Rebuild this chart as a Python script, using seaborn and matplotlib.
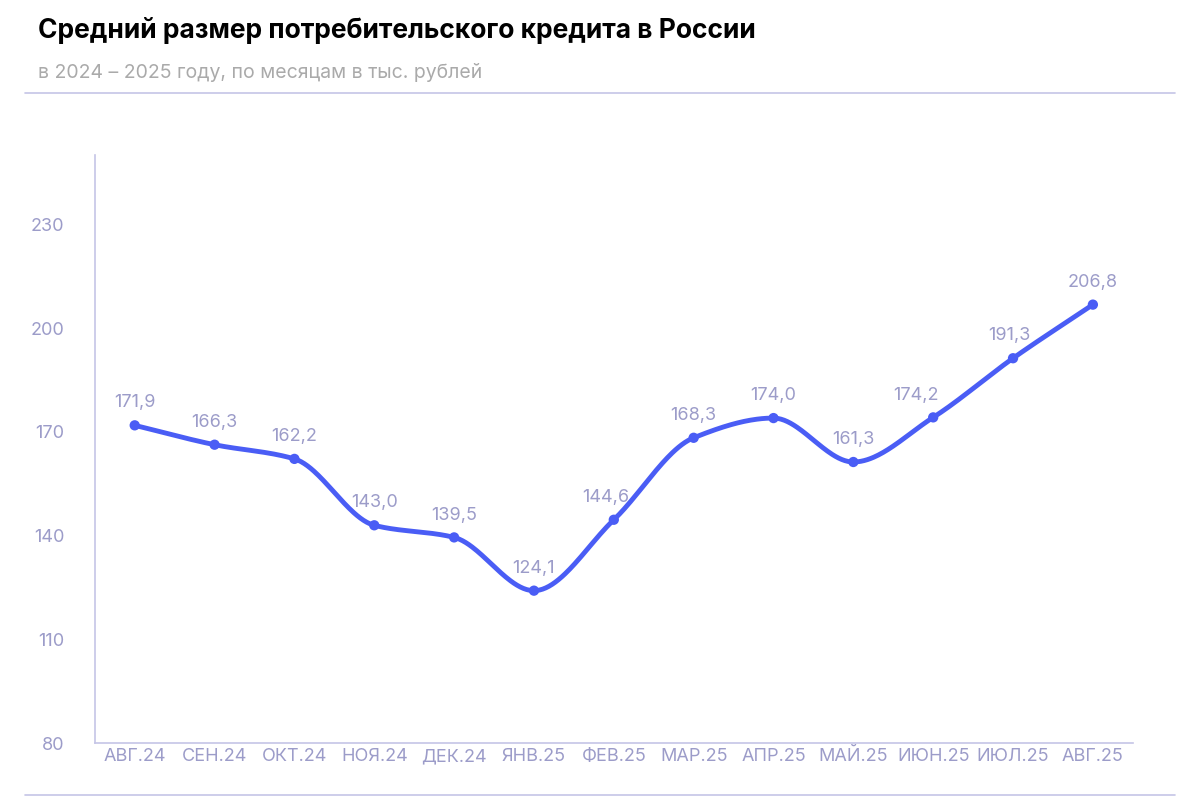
import numpy as np
import pandas as pd
import matplotlib
matplotlib.use("Agg")
import matplotlib.pyplot as plt
import seaborn as sns

months = ["АВГ.24", "СЕН.24", "ОКТ.24", "НОЯ.24", "ДЕК.24", "ЯНВ.25", "ФЕВ.25",
          "МАР.25", "АПР.25", "МАЙ.25", "ИЮН.25", "ИЮЛ.25", "АВГ.25"]
values = [171.9, 166.3, 162.2, 143.0, 139.5, 124.1, 144.6,
          168.3, 174.0, 161.3, 174.2, 191.3, 206.8]
yticks = [80, 110, 140, 170, 200, 230]

LINE = "#4a5df5"
SOFT = "#9c9cc9"

def pchip(x, y, xs):
    # monotone cubic for a smooth line through the points
    x = np.asarray(x, float); y = np.asarray(y, float)
    h = np.diff(x); d = np.diff(y) / h
    m = np.zeros_like(y)
    for k in range(1, len(y) - 1):
        if d[k - 1] * d[k] > 0:
            w1 = 2 * h[k] + h[k - 1]; w2 = h[k] + 2 * h[k - 1]
            m[k] = (w1 + w2) / (w1 / d[k - 1] + w2 / d[k])
    m[0] = d[0]; m[-1] = d[-1]
    idx = np.clip(np.searchsorted(x, xs) - 1, 0, len(h) - 1)
    t = (xs - x[idx]) / h[idx]
    h00 = 2*t**3 - 3*t**2 + 1; h10 = t**3 - 2*t**2 + t
    h01 = -2*t**3 + 3*t**2; h11 = t**3 - t**2
    return h00*y[idx] + h10*h[idx]*m[idx] + h01*y[idx+1] + h11*h[idx]*m[idx+1]

sns.set_style("white")
plt.rcParams["font.family"] = "Inter"

df = pd.DataFrame({"x": range(len(months)), "y": values})
xs = np.linspace(0, len(months) - 1, 600)
smooth = pd.DataFrame({"x": xs, "y": pchip(df.x, df.y, xs)})

fig = plt.figure(figsize=(12, 8), dpi=100)
ax = fig.add_axes([0.079, 0.071, 0.865, 0.735])
sns.lineplot(data=smooth, x="x", y="y", ax=ax, color=LINE, linewidth=3.5)
sns.scatterplot(data=df, x="x", y="y", ax=ax, color=LINE, s=55, edgecolor="none", zorder=3)
# labels on rising segments sit a little to the left of the point
shift = {6: -0.1, 10: -0.22, 11: -0.05}
for i, v in enumerate(values):
    ax.text(i + shift.get(i, 0), v + 4, f"{v:.1f}".replace(".", ","), ha="center",
            va="bottom", fontsize=13, color=SOFT)

ax.set_xlim(-0.5, len(months) - 0.5)
ax.set_ylim(80, 250)
ax.set_yticks(yticks)
ax.set_xticks(range(len(months)))
ax.set_xticklabels(months)
ax.set_xlabel(""); ax.set_ylabel("")
ax.tick_params(length=0, labelsize=13, labelcolor=SOFT)
ax.tick_params(axis="y", pad=22)
for s in ["top", "right"]:
    ax.spines[s].set_visible(False)
for s in ["left", "bottom"]:
    ax.spines[s].set_color("#c5c5e6")
    ax.spines[s].set_linewidth(1.2)

fig.text(0.032, 0.962, "Средний размер потребительского кредита в России",
         fontsize=19, fontweight="bold", color="black", va="center")
fig.text(0.032, 0.91, "в 2024 – 2025 году, по месяцам в тыс. рублей",
         fontsize=14, color="#aaaaaa", va="center")
fig.add_artist(plt.Line2D([0.021, 0.979], [0.884, 0.884], color="#c5c5e6", lw=1.2))
fig.add_artist(plt.Line2D([0.021, 0.979], [0.006, 0.006], color="#c5c5e6", lw=1.2))

fig.savefig("out.png", dpi=100)
